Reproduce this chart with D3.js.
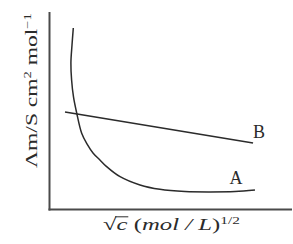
<!DOCTYPE html>
<html><head><meta charset="utf-8">
<script src="https://cdn.jsdelivr.net/npm/d3@7"></script>
<style>html,body{margin:0;padding:0;background:#fff;}svg{display:block;}</style>
</head><body>
<script>
// Data (arbitrary units 0..100 on both axes)
const curveA_x = [9.71, 9.17, 8.71, 9.0, 9.79, 11.1, 13.2, 15.4, 18.0, 20.8, 23.6, 29.2, 37.5, 45.8, 56.25, 66.7, 77.1, 85.4];
const curveA_y = [91.9, 83.3, 74.2, 65.6, 57.0, 49.0, 38.6, 33.2, 28.5, 25.1, 21.7, 16.6, 12.4, 10.2, 9.1, 8.9, 9.1, 9.9];
const lineB_x = [6.25, 84.6];
const lineB_y = [49.4, 33.7];
const seriesLabels = ["A", "B"];
const yLabelParts = [["Λm/S cm", 0], ["2", 1], [" mol", 0], ["−1", 1]];
const xLabelParts = [["√", 0, false], ["c", 0, true], [" (", 0, false], ["mol / L", 0, true], [")", 0, false], ["1/2", 1, false]];

const W = 293, H = 244;
const svg = d3.select("body").append("svg").attr("width", W).attr("height", H);
const x = d3.scaleLinear().domain([0, 100]).range([50, 290]);
const y = d3.scaleLinear().domain([0, 100]).range([209.5, 12]);
const ink = "#2b2b2b";

// axes
svg.append("line").attr("x1", 49.5).attr("x2", 49.5).attr("y1", y(100)).attr("y2", 210.5)
  .attr("stroke", "#4a4a4a").attr("stroke-width", 2);
svg.append("line").attr("x1", 48.5).attr("x2", 292).attr("y1", 209.5).attr("y2", 209.5)
  .attr("stroke", "#4a4a4a").attr("stroke-width", 2);

const line = d3.line().x(d => x(d[0])).y(d => y(d[1])).curve(d3.curveCatmullRom.alpha(0.5));
const A = curveA_x.map((v, i) => [v, curveA_y[i]]);
const B = lineB_x.map((v, i) => [v, lineB_y[i]]);
svg.append("path").attr("d", line(A)).attr("fill", "none").attr("stroke", ink).attr("stroke-width", 1.5);
svg.append("path").attr("d", d3.line().x(d => x(d[0])).y(d => y(d[1]))(B)).attr("fill", "none").attr("stroke", ink).attr("stroke-width", 1.6);

const serif = "'Liberation Serif','DejaVu Serif',serif";
// series labels
svg.append("text").text(seriesLabels[0]).attr("x", x(A[A.length - 1][0]) - 19).attr("y", 183.5)
  .attr("text-anchor", "middle").attr("font-family", serif).attr("font-size", 18).attr("fill", ink);
svg.append("text").text(seriesLabels[1]).attr("x", x(B[1][0]) + 6).attr("y", 137.5)
  .attr("text-anchor", "middle").attr("font-family", serif).attr("font-size", 18).attr("fill", ink);

function buildLabel(g, parts, fs) {
  const t = g.append("text").attr("font-family", serif).attr("font-size", fs).attr("fill", ink);
  let sup = 0;
  parts.forEach(p => {
    const ts = t.append("tspan").text(p[0]);
    if (p[1] && !sup) { ts.attr("dy", -fs * 0.38).attr("font-size", fs * 0.62); sup = 1; }
    else if (!p[1] && sup) { ts.attr("dy", fs * 0.38); sup = 0; }
    if (p[2]) ts.attr("font-style", "italic");
  });
  return t;
}

// y label
const gy = svg.append("g").attr("transform", "translate(37,168) rotate(-90)");
const gyi = gy.append("g");
const ty = buildLabel(gyi, yLabelParts, 17);
const wy = ty.node().getComputedTextLength();
gyi.attr("transform", `scale(${155 / wy},1)`);

// x label
const gx = svg.append("g").attr("transform", "translate(103,230)");
const gxi = gx.append("g");
const tx = buildLabel(gxi, xLabelParts, 17);
const wx = tx.node().getComputedTextLength();
gxi.attr("transform", `scale(${137 / wx},1)`);
// overline over c (radical bar)
const n = tx.node();
const s0 = n.getEndPositionOfChar(0).x - 1, s1 = n.getEndPositionOfChar(1).x + 0.5;
gxi.append("line").attr("x1", s0).attr("x2", s1).attr("y1", -13.2).attr("y2", -13.2)
  .attr("stroke", ink).attr("stroke-width", 1);
</script>
</body></html>
